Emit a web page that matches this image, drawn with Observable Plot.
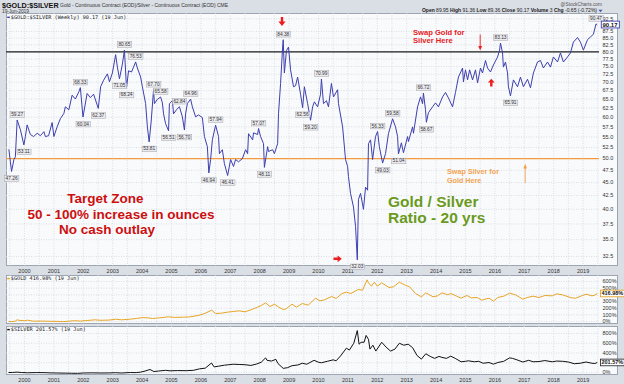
<!DOCTYPE html>
<html><head><meta charset="utf-8">
<script src="https://cdn.jsdelivr.net/npm/d3@7"></script>
<script src="https://cdn.jsdelivr.net/npm/@observablehq/plot@0.6"></script>
<style>
html,body{margin:0;padding:0;background:#dadee5;}
#chart{position:relative;width:624px;height:384px;overflow:hidden;background:#dadee5;font-family:"Liberation Sans",Arial,sans-serif;}
.panel{position:absolute;background:#f9fafc;border:1px solid #9da5b3;box-sizing:border-box;}
</style></head><body><div id="chart"></div>
<script>
// ---------- DATA ----------
const years = [2000,2001,2002,2003,2004,2005,2006,2007,2008,2009,2010,2011,2012,2013,2014,2015,2016,2017,2018,2019];
const ratioTicks = [32.5,35,37.5,40,42.5,45,47.5,50,52.5,55,57.5,60,62.5,65,67.5,70,72.5,75,77.5,80,82.5,85,87.5,92.5];
const goldGrid = [0,100,200,300,400,500,600];
const goldTickLabels = [0,100,200,300,500,600];
const silverGrid = [0,200,400,600,800];
const silverTickLabels = [0,400,600,800];

// Gold / Silver ratio, weekly (decimal year, ratio)
const ratioSeries = [[1999.47,52.0],[1999.52,49.3],[1999.56,47.26],[1999.64,49.8],[1999.69,50.4],[1999.75,59.27],[1999.86,56.8],[1999.98,53.11],[2000.03,55.1],[2000.09,58.0],[2000.20,55.6],[2000.31,55.1],[2000.43,55.9],[2000.54,55.3],[2000.66,56.3],[2000.71,55.1],[2000.82,55.3],[2000.94,58.6],[2001.00,55.1],[2001.11,57.5],[2001.22,59.6],[2001.34,61.0],[2001.39,62.8],[2001.51,62.0],[2001.62,66.1],[2001.73,65.0],[2001.85,67.1],[2001.90,68.33],[2001.99,60.04],[2002.13,66.6],[2002.24,65.4],[2002.35,66.4],[2002.51,62.37],[2002.59,68.6],[2002.69,70.6],[2002.82,72.6],[2002.89,70.1],[2002.99,72.9],[2003.10,79.0],[2003.16,74.8],[2003.23,71.05],[2003.33,75.8],[2003.40,80.65],[2003.47,68.24],[2003.54,73.6],[2003.64,73.2],[2003.71,74.8],[2003.78,76.53],[2003.84,74.5],[2003.95,71.6],[2004.01,68.6],[2004.12,63.7],[2004.18,57.5],[2004.24,53.81],[2004.31,59.0],[2004.39,67.70],[2004.42,63.7],[2004.52,64.9],[2004.63,65.58],[2004.69,63.9],[2004.73,60.9],[2004.80,58.3],[2004.90,56.51],[2004.93,63.7],[2005.03,64.5],[2005.07,60.9],[2005.17,62.0],[2005.27,62.84],[2005.37,60.1],[2005.44,56.70],[2005.48,60.9],[2005.54,63.7],[2005.65,64.96],[2005.71,62.8],[2005.82,60.1],[2005.92,60.6],[2006.05,59.9],[2006.12,55.1],[2006.22,52.7],[2006.27,46.94],[2006.33,49.8],[2006.39,54.3],[2006.50,57.94],[2006.60,55.1],[2006.63,51.1],[2006.73,52.0],[2006.80,48.9],[2006.91,46.41],[2007.01,49.8],[2007.11,48.3],[2007.18,49.8],[2007.28,49.3],[2007.41,50.0],[2007.52,52.0],[2007.59,51.1],[2007.62,55.8],[2007.76,54.3],[2007.79,56.0],[2007.93,55.6],[2007.96,57.07],[2008.03,55.1],[2008.13,53.4],[2008.16,48.11],[2008.27,52.7],[2008.30,51.6],[2008.44,52.0],[2008.50,51.1],[2008.61,53.4],[2008.64,60.9],[2008.71,69.6],[2008.78,81.7],[2008.80,84.38],[2008.84,72.9],[2008.91,80.4],[2008.98,81.7],[2009.05,73.9],[2009.15,68.6],[2009.22,68.9],[2009.29,71.6],[2009.39,66.4],[2009.46,62.56],[2009.52,68.6],[2009.63,63.7],[2009.73,59.20],[2009.80,62.8],[2009.86,64.2],[2009.97,62.8],[2010.07,66.4],[2010.10,70.99],[2010.17,63.7],[2010.27,64.5],[2010.34,62.8],[2010.44,69.6],[2010.51,65.6],[2010.65,67.7],[2010.68,63.7],[2010.82,57.5],[2010.92,49.8],[2010.99,48.3],[2011.02,46.2],[2011.09,42.9],[2011.19,40.4],[2011.26,37.1],[2011.32,32.03],[2011.36,41.8],[2011.43,42.9],[2011.53,40.0],[2011.60,44.1],[2011.67,43.5],[2011.70,53.4],[2011.77,54.3],[2011.84,49.8],[2011.94,55.1],[2012.01,56.33],[2012.07,52.7],[2012.18,49.03],[2012.28,51.1],[2012.38,55.8],[2012.52,59.58],[2012.62,57.5],[2012.69,55.1],[2012.72,51.04],[2012.82,53.6],[2012.89,51.3],[2013.03,55.1],[2013.06,53.9],[2013.20,57.5],[2013.23,55.9],[2013.37,62.8],[2013.47,65.6],[2013.54,63.7],[2013.57,66.72],[2013.64,62.0],[2013.67,58.67],[2013.74,61.2],[2013.88,62.8],[2013.98,63.9],[2014.08,62.8],[2014.22,65.6],[2014.32,66.9],[2014.42,65.3],[2014.56,62.8],[2014.66,66.9],[2014.76,71.6],[2014.90,74.5],[2014.93,70.1],[2015.00,73.9],[2015.07,70.7],[2015.14,73.9],[2015.24,70.7],[2015.34,73.9],[2015.41,69.8],[2015.51,74.5],[2015.58,72.9],[2015.68,77.0],[2015.75,74.5],[2015.85,73.2],[2015.95,75.5],[2016.09,78.2],[2016.16,80.6],[2016.19,83.13],[2016.26,79.6],[2016.29,74.8],[2016.36,76.5],[2016.43,72.9],[2016.46,68.6],[2016.53,65.91],[2016.63,70.7],[2016.77,68.6],[2016.87,71.6],[2016.97,68.6],[2017.11,70.9],[2017.21,68.3],[2017.31,72.9],[2017.45,76.5],[2017.55,77.0],[2017.65,74.5],[2017.79,76.5],[2017.89,74.8],[2017.99,78.2],[2018.13,76.5],[2018.23,79.6],[2018.33,76.5],[2018.47,78.2],[2018.57,79.6],[2018.67,83.5],[2018.81,85.2],[2018.91,83.5],[2019.01,80.6],[2019.15,84.4],[2019.25,85.4],[2019.35,86.4],[2019.44,90.47],[2019.47,90.17]];

// Labelled peak / trough values
const labelValues = [47.26,59.27,53.11,68.33,60.04,62.37,80.65,71.05,68.24,76.53,53.81,67.70,65.58,56.51,62.84,56.70,64.96,46.94,57.94,46.41,57.07,48.11,84.38,62.56,59.20,70.99,32.03,56.33,49.03,59.58,51.04,66.72,58.67,83.13,65.91,90.47];

// $GOLD % change since start (decimal year, %)
const goldSeries = [[1999.47,0],[1999.55,-2],[1999.68,4],[1999.75,25],[1999.85,15],[2000.0,12],[2000.1,20],[2000.3,5],[2000.6,6],[2000.9,3],[2001.1,2],[2001.3,-2],[2001.5,4],[2001.7,12],[2001.9,6],[2002.1,14],[2002.4,25],[2002.6,18],[2002.9,22],[2003.1,35],[2003.3,25],[2003.6,35],[2003.8,45],[2004.0,58],[2004.2,55],[2004.35,45],[2004.6,55],[2004.9,70],[2005.1,62],[2005.4,65],[2005.6,68],[2005.9,90],[2006.1,115],[2006.37,170],[2006.5,120],[2006.7,125],[2006.9,140],[2007.1,150],[2007.3,160],[2007.5,145],[2007.7,175],[2007.9,210],[2008.05,240],[2008.2,280],[2008.35,225],[2008.5,260],[2008.65,215],[2008.8,180],[2008.9,190],[2009.1,260],[2009.25,215],[2009.45,270],[2009.65,245],[2009.9,350],[2010.05,310],[2010.2,325],[2010.45,375],[2010.6,345],[2010.8,420],[2010.95,440],[2011.1,420],[2011.35,480],[2011.5,470],[2011.65,625],[2011.7,580],[2011.8,530],[2011.9,590],[2012.0,530],[2012.15,580],[2012.4,510],[2012.55,520],[2012.75,590],[2012.95,545],[2013.1,520],[2013.3,420],[2013.5,370],[2013.65,430],[2013.9,370],[2014.05,385],[2014.2,430],[2014.4,400],[2014.5,420],[2014.7,380],[2014.85,350],[2015.05,390],[2015.2,355],[2015.4,360],[2015.55,320],[2015.8,350],[2015.95,305],[2016.1,360],[2016.3,380],[2016.5,425],[2016.7,400],[2016.95,335],[2017.1,360],[2017.3,380],[2017.5,360],[2017.7,390],[2017.95,385],[2018.1,415],[2018.3,400],[2018.6,355],[2018.75,350],[2018.95,385],[2019.1,410],[2019.3,385],[2019.4,395],[2019.47,416.98]];

// $SILVER % change since start (decimal year, %)
const silverSeries = [[1999.47,0],[1999.6,2],[1999.75,8],[1999.9,0],[2000.1,-5],[2000.4,-1],[2000.7,-3],[2000.9,-8],[2001.1,-10],[2001.4,-13],[2001.6,-15],[2001.8,-17],[2002.0,-10],[2002.3,-7],[2002.6,-10],[2002.9,-8],[2003.1,-4],[2003.3,-10],[2003.6,0],[2003.8,-2],[2003.95,8],[2004.1,30],[2004.27,62],[2004.4,20],[2004.55,30],[2004.8,45],[2004.95,35],[2005.2,40],[2005.5,38],[2005.75,45],[2005.95,75],[2006.15,90],[2006.36,195],[2006.45,115],[2006.6,130],[2006.8,150],[2006.95,160],[2007.1,170],[2007.3,165],[2007.5,160],[2007.7,145],[2007.9,175],[2008.05,210],[2008.2,300],[2008.25,250],[2008.4,235],[2008.55,270],[2008.62,185],[2008.8,85],[2008.95,100],[2009.1,140],[2009.3,155],[2009.45,190],[2009.6,170],[2009.85,250],[2010.0,210],[2010.1,200],[2010.3,230],[2010.5,260],[2010.6,240],[2010.75,340],[2010.95,500],[2011.05,460],[2011.2,600],[2011.32,860],[2011.38,580],[2011.45,620],[2011.55,620],[2011.62,760],[2011.7,680],[2011.75,480],[2011.85,560],[2011.95,440],[2012.15,620],[2012.3,520],[2012.45,440],[2012.6,480],[2012.75,600],[2012.9,560],[2013.05,580],[2013.2,510],[2013.35,350],[2013.5,275],[2013.65,385],[2013.8,330],[2013.95,290],[2014.1,330],[2014.2,310],[2014.35,290],[2014.5,335],[2014.65,290],[2014.85,220],[2015.0,230],[2015.1,240],[2015.3,220],[2015.45,230],[2015.6,190],[2015.8,205],[2015.95,172],[2016.1,205],[2016.3,230],[2016.5,300],[2016.6,290],[2016.75,260],[2016.95,215],[2017.15,250],[2017.3,220],[2017.5,225],[2017.7,245],[2017.95,220],[2018.1,235],[2018.3,230],[2018.5,215],[2018.7,180],[2018.9,190],[2019.1,215],[2019.3,190],[2019.4,185],[2019.47,201.57]];

// ---------- BUILD ----------
const ratio = ratioSeries.map(([yr, v]) => ({yr, v}));
const gold = goldSeries.map(([yr, v]) => ({yr, v}));
const silver = silverSeries.map(([yr, v]) => ({yr, v}));
const labels = labelValues.map(v => {
  const i = ratio.findIndex(d => d.v === v);
  const prev = i > 0 ? ratio[i - 1].v : -Infinity;
  const next = i < ratio.length - 1 ? ratio[i + 1].v : -Infinity;
  return {yr: ratio[i].yr, v, peak: v >= prev && v >= next};
});
const lastRatio = ratio[ratio.length - 1];
const lastGold = gold[gold.length - 1];
const lastSilver = silver[silver.length - 1];

const chart = document.getElementById("chart");
const xDomain = [1999.388, 2019.558];
const halfYears = d3.range(1999.5, 2019.6, 0.5);
const font = "Liberation Sans, Arial, sans-serif";
const grid = {stroke: "#d3d7de", strokeDasharray: "1,1.5", strokeWidth: 0.8};
const baseStyle = {background: "none", fontFamily: font, fontSize: "5.5px", color: "#333", overflow: "visible"};

function addPanel(top, height) {
  const d = document.createElement("div");
  d.className = "panel";
  Object.assign(d.style, {left: "6px", top: top + "px", width: "612px", height: height + "px"});
  chart.appendChild(d);
}
function place(svg, top) {
  Object.assign(svg.style, {position: "absolute", left: "6px", top: top + "px"});
  chart.appendChild(svg);
}
function boxify(svg, fill, rectFill, rectStroke, sw, px, py) {
  d3.select(svg).selectAll(`g[fill="${fill}"] text`).each(function () {
    const b = this.getBBox();
    const r = document.createElementNS("http://www.w3.org/2000/svg", "rect");
    r.setAttribute("x", b.x - px); r.setAttribute("y", b.y - py);
    r.setAttribute("width", b.width + 2 * px); r.setAttribute("height", b.height + 2 * py);
    r.setAttribute("fill", rectFill); r.setAttribute("stroke", rectStroke); r.setAttribute("stroke-width", sw);
    const t = this.getAttribute("transform"); if (t) r.setAttribute("transform", t);
    this.parentNode.insertBefore(r, this);
  });
}

// Main panel
addPanel(13, 253);
const main = Plot.plot({
  width: 612, height: 264, marginLeft: 0, marginRight: 19, marginTop: 0, marginBottom: 11,
  style: baseStyle,
  x: {domain: xDomain, label: null, ticks: years, tickFormat: d => String(d), tickSize: 0, tickPadding: 3},
  y: {type: "log", domain: [31.1, 94.7], label: null, axis: "right", ticks: ratioTicks, tickFormat: d3.format(".1f"), tickSize: 0, tickPadding: 3},
  marks: [
    Plot.ruleY(ratioTicks, grid),
    Plot.ruleX(halfYears, grid),
    Plot.ruleY([80], {stroke: "#1c1c1c", strokeWidth: 1.3}),
    Plot.ruleY([50], {stroke: "#f29a3c", strokeWidth: 1.3}),
    Plot.line(ratio, {x: "yr", y: "v", stroke: "#3d3fae", strokeWidth: 1}),
    Plot.text(labels.filter(d => d.peak), {x: "yr", y: "v", text: d => d.v.toFixed(2), dy: -5.5, fill: "#333334", fontSize: 4.8}),
    Plot.text(labels.filter(d => !d.peak), {x: "yr", y: "v", text: d => d.v.toFixed(2), dy: 7, fill: "#333334", fontSize: 4.8}),
    Plot.text([lastRatio], {x: () => xDomain[1], y: "v", text: d => d.v.toFixed(2), textAnchor: "start", dx: 3, fill: "#111112", fontWeight: "bold", fontSize: 6})
  ]
});
place(main, 13);
boxify(main, "#333334", "#ebebef", "#a3a3ab", 0.5, 1, 0.3);
boxify(main, "#111112", "#ffffff", "#3d3fae", 0.9, 1.2, 0.4);

// Gold panel
addPanel(275, 49);
const goldPlot = Plot.plot({
  width: 612, height: 49, marginLeft: 0, marginRight: 19, marginTop: 0, marginBottom: 0,
  style: baseStyle,
  x: {domain: xDomain, axis: null},
  y: {domain: [-45, 690], label: null, axis: "right", ticks: goldTickLabels, tickFormat: d => d + "%", tickSize: 0, tickPadding: 3},
  marks: [
    Plot.ruleY(goldGrid, grid),
    Plot.ruleX(halfYears, grid),
    Plot.line(gold, {x: "yr", y: "v", stroke: "#e8a526", strokeWidth: 1}),
    Plot.text([lastGold], {x: () => xDomain[1], y: "v", text: d => d.v.toFixed(2) + "%", textAnchor: "start", dx: 2, fill: "#111113", fontWeight: "bold", fontSize: 5.5})
  ]
});
place(goldPlot, 275);
boxify(goldPlot, "#111113", "#ffffff", "#e8a526", 0.9, 1, 0.3);

// Silver panel
addPanel(326, 49);
const silverPlot = Plot.plot({
  width: 612, height: 60, marginLeft: 0, marginRight: 19, marginTop: 0, marginBottom: 11,
  style: baseStyle,
  x: {domain: xDomain, label: null, ticks: years, tickFormat: d => String(d), tickSize: 0, tickPadding: 3},
  y: {domain: [-61, 943], label: null, axis: "right", ticks: silverTickLabels, tickFormat: d => d + "%", tickSize: 0, tickPadding: 3},
  marks: [
    Plot.ruleY(silverGrid, grid),
    Plot.ruleX(halfYears, grid),
    Plot.line(silver, {x: "yr", y: "v", stroke: "#111111", strokeWidth: 1}),
    Plot.text([lastSilver], {x: () => xDomain[1], y: "v", text: d => d.v.toFixed(2) + "%", textAnchor: "start", dx: 2, fill: "#111114", fontWeight: "bold", fontSize: 5.5})
  ]
});
place(silverPlot, 326);
boxify(silverPlot, "#111114", "#ffffff", "#333333", 0.9, 1, 0.3);

// ---------- Overlay texts & arrows ----------
const ov = d3.create("svg").attr("width", 624).attr("height", 384)
  .style("position", "absolute").style("left", "0px").style("top", "0px").style("pointer-events", "none")
  .attr("font-family", font);
function txt(x, y, s, size, opts = {}) {
  const t = ov.append("text").attr("x", x).attr("y", y).attr("font-size", size).attr("fill", opts.fill || "#222")
    .attr("font-weight", opts.bold ? "bold" : null).attr("text-anchor", opts.anchor || "start");
  if (opts.family) t.attr("font-family", opts.family);
  t.text(s);
  return t;
}
// header
txt(2, 7.6, "$GOLD:$SILVER", 7.2, {bold: true, fill: "#111"});
txt(60, 7.4, "Gold - Continuous Contract (EOD)/Silver - Continuous Contract (EOD) CME", 5, {fill: "#333"});
txt(2, 12.6, "19-Jun-2019", 4.8, {fill: "#333"});
txt(602, 6, "@StockCharts.com", 4.8, {anchor: "end", fill: "#555"});
const ohlc = ov.append("text").attr("x", 597).attr("y", 12.4).attr("font-size", 5).attr("text-anchor", "end").attr("fill", "#222");
[["Open", true], [" 89.95 ", false], ["High", true], [" 91.36 ", false], ["Low", true], [" 89.36 ", false], ["Close", true], [" 90.17 ", false], ["Volume", true], [" 3 ", false], ["Chg", true], [" -0.65 (-0.72%)", false]]
  .forEach(([s, b]) => ohlc.append("tspan").attr("font-weight", b ? "bold" : null).text(s));
ov.append("path").attr("d", "M598.5,9.8 L602.5,9.8 L600.5,12.2 Z").attr("fill", "#3d5a9e");

// legends
const mono = "DejaVu Sans Mono, Liberation Mono, monospace";
ov.append("line").attr("x1", 7.2).attr("x2", 9.8).attr("y1", 17.3).attr("y2", 17.3).attr("stroke", "#3d3fae").attr("stroke-width", 1.4);
txt(10.8, 19, "$GOLD:$SILVER (Weekly) 90.17 (19 Jun)", 5.2, {family: mono, fill: "#222"});
ov.append("line").attr("x1", 7.2).attr("x2", 9.8).attr("y1", 278.6).attr("y2", 278.6).attr("stroke", "#e8a526").attr("stroke-width", 1.4);
txt(10.8, 280.4, "$GOLD 416.98% (19 Jun)", 5.2, {family: mono, fill: "#222"});
ov.append("line").attr("x1", 7.2).attr("x2", 9.8).attr("y1", 329.6).attr("y2", 329.6).attr("stroke", "#111").attr("stroke-width", 1.4);
txt(10.8, 331.4, "$SILVER 201.57% (19 Jun)", 5.2, {family: mono, fill: "#222"});

// annotation texts
txt(105.5, 202.5, "Target Zone", 13.5, {bold: true, fill: "#cc0f0f", anchor: "middle"});
txt(121, 218.5, "50 - 100% increase in ounces", 13.5, {bold: true, fill: "#cc0f0f", anchor: "middle"});
txt(107, 234, "No cash outlay", 13.5, {bold: true, fill: "#cc0f0f", anchor: "middle"});
txt(388, 206.5, "Gold / Silver", 15.5, {bold: true, fill: "#6a9a1c"});
txt(388, 222.5, "Ratio - 20 yrs", 15.5, {bold: true, fill: "#6a9a1c"});
txt(413, 35.3, "Swap Gold for", 7.6, {bold: true, fill: "#e8201e"});
txt(413, 43.4, "Silver Here", 7.6, {bold: true, fill: "#e8201e"});
txt(447, 174.3, "Swap Silver for", 7.2, {bold: true, fill: "#f2a452"});
txt(447, 182.6, "Gold Here", 7.2, {bold: true, fill: "#f2a452"});

// arrows
const red = "#ee1c1c";
ov.append("path").attr("d", "M280.8,17 L283.2,17 L283.2,21.5 L285.6,21.5 L282,26 L278.4,21.5 L280.8,21.5 Z").attr("fill", red);
ov.append("path").attr("d", "M333.5,257.6 L337.6,257.6 L337.6,255.4 L341.8,258.8 L337.6,262.2 L337.6,260 L333.5,260 Z").attr("fill", red);
ov.append("path").attr("d", "M490.1,86.6 L492.5,86.6 L492.5,82.6 L494.7,82.6 L491.3,78.8 L487.9,82.6 L490.1,82.6 Z").attr("fill", red);
ov.append("line").attr("x1", 480.2).attr("x2", 480.2).attr("y1", 34.5).attr("y2", 47).attr("stroke", red).attr("stroke-width", 0.9);
ov.append("path").attr("d", "M478.3,46 L482.1,46 L480.2,50.6 Z").attr("fill", red);
ov.append("line").attr("x1", 525.2).attr("x2", 525.2).attr("y1", 183).attr("y2", 167.5).attr("stroke", "#f2a452").attr("stroke-width", 0.9);
ov.append("path").attr("d", "M523.3,168.6 L527.1,168.6 L525.2,163.8 Z").attr("fill", "#f2a452");

chart.appendChild(ov.node());
</script></body></html>
